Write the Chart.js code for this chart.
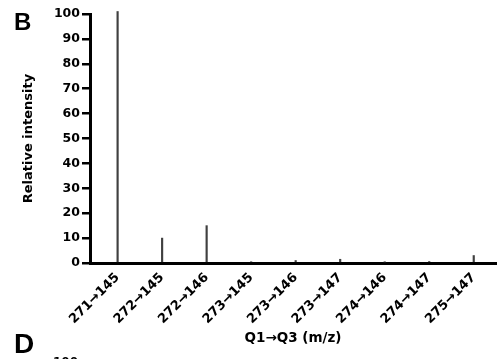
<!DOCTYPE html>
<html>
<head>
<meta charset="utf-8">
<script src="https://cdn.jsdelivr.net/npm/chart.js@4.4.1/dist/chart.umd.min.js"></script>
<style>
  html, body { margin: 0; padding: 0; background: #fff; }
  #wrap { width: 497px; height: 359px; position: relative; }
</style>
</head>
<body>
<div id="wrap"><canvas id="myChart" width="497" height="359"></canvas></div>
<script>
// transitions Q1 -> Q3
const transitions = ['271\u2192145', '272\u2192145', '272\u2192146', '273\u2192145', '273\u2192146',
                     '273\u2192147', '274\u2192146', '274\u2192147', '275\u2192147'];
const intensity = [101, 10, 15, 0.5, 1, 1.5, 0.4, 0.6, 3];
const yTicks = [0, 10, 20, 30, 40, 50, 60, 70, 80, 90, 100];

const font = '"DejaVu Sans", sans-serif';

// panel letters
const panelLetters = {
    id: 'panelLetters',
    afterDraw(chart) {
        const ctx = chart.ctx;
        ctx.save();
        ctx.fillStyle = '#000';
        ctx.textBaseline = 'alphabetic';
        ctx.font = 'bold 24px Arial, "Liberation Sans", sans-serif';
        ctx.fillText('B', 14, 30);
        ctx.font = 'bold 28px Arial, "Liberation Sans", sans-serif';
        ctx.fillText('D', 14, 353);
        // top of next panel's axis, cut off
        ctx.font = 'bold 12px ' + font;
        ctx.fillText('100', 53, 366);
        ctx.restore();
    }
};

const ctx = document.getElementById('myChart').getContext('2d');
const chart = new Chart(ctx, {
    type: 'bar',
    data: {
        datasets: [{
            data: intensity.map((v, i) => ({ x: i, y: v })),
            backgroundColor: '#404040',
            borderWidth: 0,
            barThickness: 1.5,
            clip: false
        }]
    },
    options: {
        responsive: false,
        animation: false,
        layout: { padding: { top: 14, right: 1, left: 21, bottom: 12 } },
        plugins: {
            legend: { display: false },
            tooltip: { enabled: false }
        },
        scales: {
            x: {
                type: 'linear',
                offset: false,
                min: -0.62,
                max: 8.5,
                afterBuildTicks: (scale) => {
                    scale.ticks = transitions.map((t, i) => ({ value: i }));
                },
                afterFit: (scale) => { scale.height = 84; },
                border: { display: true, color: '#000', width: 3 },
                grid: { display: false, drawTicks: false },
                ticks: {
                    autoSkip: false,
                    minRotation: 45,
                    maxRotation: 45,
                    padding: 7,
                    color: '#000',
                    font: { family: font, size: 13, weight: 'bold' },
                    callback: (v) => transitions[v]
                },
                title: {
                    display: true,
                    text: 'Q1\u2192Q3 (m/z)',
                    color: '#000',
                    font: { family: font, size: 13.5, weight: 'bold' },
                    padding: { top: 0, bottom: 0 }
                }
            },
            y: {
                min: 0,
                max: 100,
                afterBuildTicks: (scale) => {
                    scale.ticks = yTicks.map(v => ({ value: v }));
                },
                afterFit: (scale) => { scale.width = 69; },
                border: { display: true, color: '#000', width: 3 },
                grid: {
                    display: true,
                    drawOnChartArea: false,
                    drawTicks: true,
                    tickLength: 8,
                    lineWidth: 2.5,
                    color: '#000'
                },
                ticks: {
                    padding: 2,
                    color: '#000',
                    font: { family: font, size: 12.5, weight: 'bold' }
                },
                title: {
                    display: true,
                    text: 'Relative intensity',
                    color: '#000',
                    font: { family: font, size: 13, weight: 'bold' },
                    padding: { top: 0, bottom: 0 }
                }
            }
        }
    },
    plugins: [panelLetters]
});
</script>
</body>
</html>
